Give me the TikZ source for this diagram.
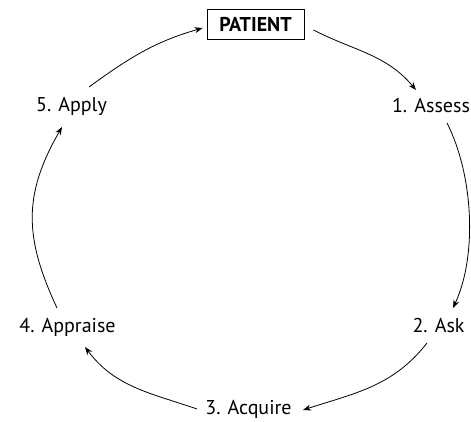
\documentclass[tikz,border=0pt]{standalone}
\usepackage{fontspec}
\setmainfont{PT Sans}
\usetikzlibrary{arrows.meta}
\begin{document}
\begin{tikzpicture}[x=1pt,y=1pt,
  lbl/.style={inner sep=0pt,anchor=base,font=\fontsize{20}{24}\selectfont},
  boxed/.style={draw,line width=0.8pt,minimum width=97pt,minimum height=30pt,inner sep=0pt,font=\fontsize{20}{24}\selectfont\bfseries},
  conn/.style={line width=0.8pt,-{Stealth[length=8pt,width=6pt]}}]
\useasboundingbox (0,0) rectangle (471,-421);
\node[boxed] (patient) at (255.5,-24) {PATIENT};
\node[lbl] (assess) at (431,-112) {1. Assess};
\node[lbl] (ask) at (438.5,-332) {2. Ask};
\node[lbl] (acquire) at (248.5,-414) {3. Acquire};
\node[lbl] (appraise) at (67.5,-332) {4. Appraise};
\node[lbl] (apply) at (71.5,-111) {5. Apply};
\draw[conn] ([shift={(17.5,24)}]apply.base) to[out=36,in=196] ([shift={(-4,-4)}]patient.west);
\draw[conn] ([shift={(9,-6)}]patient.east) to[out=-27,in=130] ([shift={(-15,22)}]assess.base);
\draw[conn] ([shift={(16,-11)}]assess.base) to[out=-63,in=65,looseness=0.8] ([shift={(14.5,24)}]ask.base);
\draw[conn] ([shift={(-11.5,-11)}]ask.base) to[out=-128,in=18] ([shift={(54.5,4)}]acquire.base);
\draw[conn] ([shift={(-51.5,5)}]acquire.base) to[out=161,in=-53] ([shift={(17.5,-15)}]appraise.base);
\draw[conn] ([shift={(-10.5,24)}]appraise.base) to[out=115,in=-120,looseness=1.1] ([shift={(-9.5,-16)}]apply.base);
\end{tikzpicture}
\end{document}
